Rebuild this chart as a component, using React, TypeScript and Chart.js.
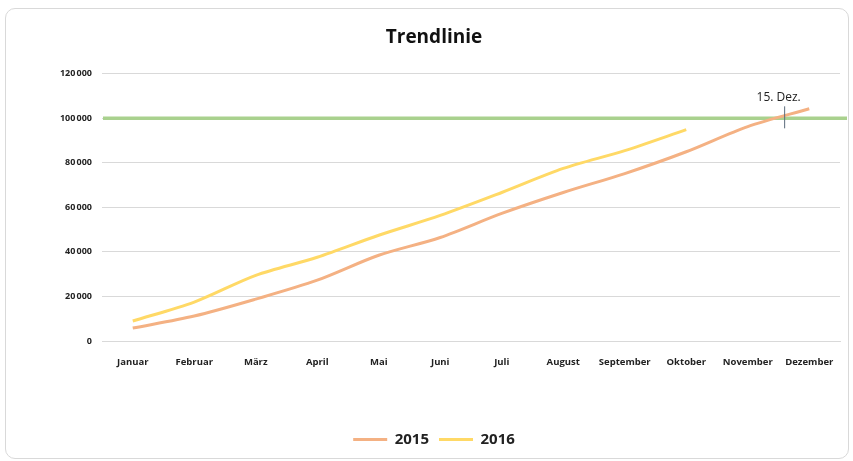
import React, { useEffect, useRef } from "react";
import { Chart, registerables } from "chart.js";

Chart.register(...registerables);

const categories = [
  "Januar", "Februar", "März", "April", "Mai", "Juni",
  "Juli", "August", "September", "Oktober", "November", "Dezember",
];
const series2015 = [5800, 11200, 18800, 27300, 38500, 46500, 57300, 66700, 75200, 85000, 96300, 104300];
const series2016 = [9000, 17500, 29500, 37600, 47500, 56400, 66700, 77500, 85500, 94900];
const yTicks = [0, 20000, 40000, 60000, 80000, 100000, 120000];
const targetValue = 100000;
const markerLabel = "15. Dez.";
const markerIndex = 10.6;

const formatTick = (v: number) =>
  v >= 1000 ? `${Math.floor(v / 1000)}\u202F${String(v % 1000).padStart(3, "0")}` : String(v);

const overlayPlugin = {
  id: "overlay",
  beforeDatasetsDraw(chart: any) {
    const { ctx, chartArea, scales } = chart;
    const y = scales.y.getPixelForValue(targetValue);
    ctx.save();
    ctx.strokeStyle = "#A9D18E";
    ctx.lineWidth = 3.5;
    ctx.beginPath();
    ctx.moveTo(chartArea.left + 1, y);
    ctx.lineTo(chartArea.right + 7, y);
    ctx.stroke();
    ctx.restore();
  },
  afterDatasetsDraw(chart: any) {
    const { ctx, scales } = chart;
    const x = scales.x.getPixelForValue(markerIndex);
    const y = scales.y.getPixelForValue(targetValue);
    ctx.save();
    ctx.strokeStyle = "#5a6b7b";
    ctx.lineWidth = 1;
    ctx.beginPath();
    ctx.moveTo(x, y - 12);
    ctx.lineTo(x, y + 10);
    ctx.stroke();
    ctx.fillStyle = "#222";
    ctx.font = "12px 'Open Sans', sans-serif";
    ctx.textAlign = "center";
    ctx.textBaseline = "middle";
    ctx.fillText(markerLabel, x - 6, y - 21);
    ctx.restore();
  },
};

export default function App() {
  const ref = useRef<HTMLCanvasElement>(null);
  useEffect(() => {
    if (!ref.current) return;
    const chart = new Chart(ref.current, {
      type: "line",
      data: {
        labels: categories,
        datasets: [
          {
            label: "2015",
            data: series2015,
            borderColor: "#F4B183",
            backgroundColor: "#F4B183",
            borderWidth: 3,
            pointRadius: 0,
            tension: 0.3,
            pointStyle: "line",
          },
          {
            label: "2016",
            data: series2016,
            borderColor: "#FFD966",
            backgroundColor: "#FFD966",
            borderWidth: 3,
            pointRadius: 0,
            tension: 0.3,
            pointStyle: "line",
          },
        ],
      },
      options: {
        animation: false,
        responsive: false,
        maintainAspectRatio: false,
        layout: { padding: { left: 28, right: 13, top: 0, bottom: 4 } },
        plugins: {
          title: {
            display: true,
            text: "Trendlinie",
            color: "#111",
            font: { family: "'Open Sans', sans-serif", size: 19, weight: "bold" },
            padding: { top: 26, bottom: 25 },
          },
          legend: {
            position: "bottom",
            labels: {
              usePointStyle: true,
              pointStyleWidth: 34,
              color: "#222",
              font: { family: "'Open Sans', sans-serif", size: 15, weight: "bold" },
              padding: 10,
            },
          },
          tooltip: { enabled: false },
        },
        scales: {
          x: {
            offset: true,
            grid: { display: false },
            border: { display: true, color: "#d9d9d9" },
            ticks: {
              color: "#222",
              font: { family: "'Open Sans', sans-serif", size: 9.5, weight: "bold" },
              maxRotation: 0,
              autoSkip: false,
              padding: 8,
            },
            afterFit(scale: any) {
              scale.height = 81;
            },
          },
          y: {
            min: 0,
            max: 120000,
            afterBuildTicks(scale: any) {
              scale.ticks = yTicks.map((v) => ({ value: v }));
            },
            grid: { color: "#d9d9d9", drawTicks: false },
            border: { display: false },
            ticks: {
              color: "#222",
              font: { family: "'Open Sans', sans-serif", size: 9, weight: "bold" },
              padding: 10,
              callback: (v: any) => formatTick(Number(v)),
            },
            afterFit(scale: any) {
              scale.width = 74;
            },
          },
        },
      },
      plugins: [overlayPlugin],
    });
    return () => chart.destroy();
  }, []);
  return (
    <div style={{ position: "fixed", left: 0, top: 0, width: 853, height: 461, background: "#fff" }}>
      <div
        style={{
          position: "absolute",
          left: 5,
          top: 8,
          width: 842,
          height: 449,
          border: "1px solid #d9d9d9",
          borderRadius: 10,
        }}
      />
      <canvas ref={ref} width={853} height={461} style={{ position: "absolute", left: 0, top: 0 }} />
    </div>
  );
}
